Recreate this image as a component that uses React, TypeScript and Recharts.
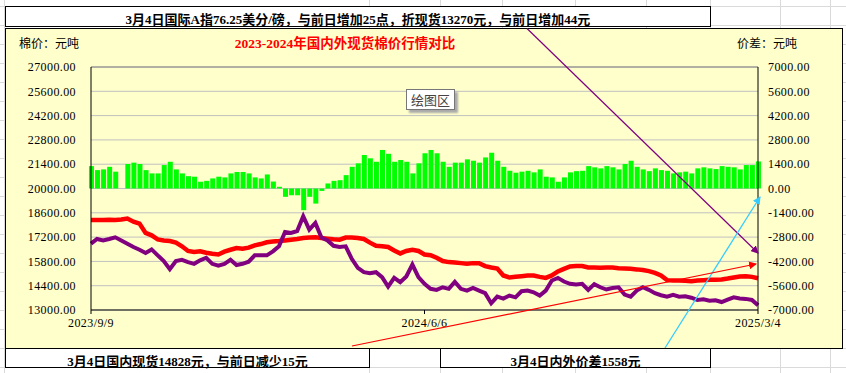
import { Bar, CartesianGrid, ComposedChart, Line, ReferenceLine, XAxis, YAxis } from "recharts";

// 国内现货 (元/吨)
const domestic = [
  18190, 18190, 18190, 18200, 18190, 18210, 18270, 18090, 17980, 17440,
  17300, 17070, 17010, 16970, 16880, 16670, 16400, 16340, 16380, 16300,
  16240, 16200, 16360, 16470, 16570, 16530, 16590, 16720, 16800, 16900,
  16940, 16970, 17010, 17050, 17090, 17150, 17170, 17190, 17150, 17110,
  17070, 17050, 17170, 17170, 17150, 17090, 16880, 16700, 16670, 16630,
  16430, 16260, 16400, 16470, 16400, 16200, 16160, 16010, 15820, 15760,
  15740, 15700, 15660, 15700, 15700, 15530, 15450, 15390, 14990, 14870,
  14910, 14950, 14990, 14990, 14910, 14850, 14990, 15220, 15370, 15510,
  15530, 15530, 15450, 15450, 15430, 15450, 15450, 15410, 15390, 15370,
  15340, 15300, 15240, 15140, 14990, 14720, 14700, 14700, 14680, 14660,
  14700, 14720, 14740, 14740, 14760, 14810, 14870, 14930, 14950, 14910,
  14828,
];

// 国际A指折现货 (元/吨)
const international = [
  16820, 17090, 17010, 17090, 17190, 17010, 16820, 16630, 16470, 16280,
  16490, 16150, 15820, 15350, 15820, 15890, 15760, 15660, 15860, 16010,
  15660, 15550, 15660, 15890, 15590, 15660, 15780, 16150, 16150, 16150,
  16380, 16670, 17500, 17440, 17550, 18400, 17630, 18020, 17170, 17010,
  16700, 16630, 16670, 15950, 15430, 15180, 15120, 15180, 14890, 14350,
  14850, 14600, 14930, 15620, 14890, 14510, 14220, 14160, 14310, 14220,
  14620, 14220, 14120, 14270, 14120, 13970, 13390, 13770, 13660, 13830,
  13730, 14080, 14120, 14020, 13830, 14120, 14700, 14850, 14640, 14510,
  14470, 14510, 14160, 14490, 14310, 14180, 14270, 14310, 13890, 13770,
  14120, 14310, 14160, 13970, 13850, 13770, 13870, 13770, 13790, 13710,
  13580, 13620, 13540, 13560, 13460, 13600, 13730, 13660, 13640, 13580,
  13270,
];

// 内外价差 (元/吨)
const spread = [
  1290, 1060, 1100, 1250, 970, null, 1410, 1490, 1410, 1060,
  870, 870, 1350, 1540, 1100, 870, 710, 680, 390, 440,
  580, 680, 640, 870, 950, 950, 870, 640, 580, 810,
  400, 100, -480, -390, -390, -1250, -480, -870, -140, 290,
  440, 480, 770, 1250, 1450, 1930, 1740, 1540, 2220, 2000,
  1540, 1640, 1540, 870, 1450, 2030, 2220, 2030, 1540, 1250,
  1490, 1490, 1680, 1600, 1490, 1790, 2060, 1600, 1250, 1020,
  910, 970, 1020, 930, 1100, 680, 640, 390, 640, 930,
  1000, 1020, 1290, 1220, 1160, 1290, 1220, 1100, 1410, 1600,
  1250, 1100, 1000, 1160, 1060, 1020, 870, 930, 970, 870,
  1160, 1220, 1160, 1120, 1290, 1250, 1220, 1100, 1350, 1350,
  1558,
];

const xTickIndex = [0, 55, 110];
const xTickLabels = ["2023/9/9", "2024/6/6", "2025/3/4"];
const priceTicks = [13000, 14400, 15800, 17200, 18600, 20000, 21400, 22800, 24200, 25600, 27000];
const spreadTicks = [-7000, -5600, -4200, -2800, -1400, 0, 1400, 2800, 4200, 5600, 7000];

const data = domestic.map((d, i) => ({
  i,
  domestic: d,
  international: international[i],
  spread: spread[i],
}));

const sheetRows = Array.from({ length: 20 }, (_, k) => 6.5 + k * 19);
const sheetCols = [4.5, 369.5, 440.5, 502.5, 575.5, 646.5, 710.5, 780.5, 830.5];

const tickStyle = { fill: "#000", fontSize: 12, fontFamily: '"Liberation Serif", serif', letterSpacing: 0.4 };
const cjk = '"Liberation Serif", "Noto Sans CJK SC", serif';

function Box({ left, width, top, height, text }: { left: number; width: number; top: number; height: number; text: string }) {
  return (
    <div
      style={{
        position: "absolute",
        left,
        top,
        width,
        height,
        boxSizing: "border-box",
        border: "1px solid #000",
        background: "#fff",
        fontFamily: cjk,
        fontWeight: 700,
        fontSize: 13,
        lineHeight: "13px",
        textAlign: "center",
        paddingTop: 6,
        whiteSpace: "nowrap",
        overflow: "visible",
      }}
    >
      {text}
    </div>
  );
}

export default function App() {
  return (
    <div style={{ position: "absolute", left: 0, top: 0, width: 846, height: 373, overflow: "hidden", background: "#fff" }}>
      <svg width={846} height={373} style={{ position: "absolute", left: 0, top: 0 }}>
        {sheetRows.map((y) => (
          <line key={"r" + y} x1={0} x2={846} y1={y} y2={y} stroke="#dadada" />
        ))}
        {sheetCols.map((x) => (
          <line key={"c" + x} x1={x} x2={x} y1={0} y2={373} stroke="#dadada" />
        ))}
      </svg>

      <div
        style={{
          position: "absolute",
          left: 5,
          top: 28,
          width: 838,
          height: 321,
          boxSizing: "border-box",
          border: "1px solid #000",
          background: "#ffffcc",
        }}
      />

      <div style={{ position: "absolute", left: 0, top: 0 }}>
        <ComposedChart width={846} height={373} data={data} margin={{ top: 67, right: 10, bottom: 33, left: 11 }}>
          <CartesianGrid yAxisId="left" vertical={false} stroke="#c0c0c0" />
          <XAxis
            dataKey="i"
            type="number"
            domain={[0, 110]}
            ticks={xTickIndex}
            tickFormatter={(v: number) => xTickLabels[xTickIndex.indexOf(v)] ?? ""}
            tick={tickStyle}
            axisLine={{ stroke: "#000" }}
            tickLine={{ stroke: "#000" }}
            tickSize={4}
            tickMargin={4}
            height={30}
            interval={0}
          />
          <YAxis
            yAxisId="left"
            domain={[13000, 27000]}
            ticks={priceTicks}
            tickFormatter={(v: number) => v.toFixed(2)}
            tick={tickStyle}
            axisLine={{ stroke: "#000" }}
            tickLine={false}
            tickSize={6}
            tickMargin={9}
            width={80}
            interval={0}
          />
          <YAxis
            yAxisId="right"
            orientation="right"
            domain={[-7000, 7000]}
            ticks={spreadTicks}
            tickFormatter={(v: number) => v.toFixed(2)}
            tick={tickStyle}
            axisLine={{ stroke: "#000" }}
            tickLine={false}
            tickSize={6}
            tickMargin={4}
            width={78}
            interval={0}
          />
          <ReferenceLine yAxisId="left" y={27000} stroke="#808080" />
          <Bar yAxisId="right" dataKey="spread" fill="#00ff00" barSize={5} isAnimationActive={false} />
          <Line
            yAxisId="left"
            dataKey="domestic"
            stroke="#ff0000"
            strokeWidth={4.5}
            dot={false}
            type="linear"
            isAnimationActive={false}
          />
          <Line
            yAxisId="left"
            dataKey="international"
            stroke="#800080"
            strokeWidth={4}
            dot={false}
            type="linear"
            isAnimationActive={false}
          />
        </ComposedChart>
      </div>

      <div style={{ position: "absolute", left: 19, top: 36, fontFamily: cjk, fontSize: 12, lineHeight: "16px" }}>棉价：元吨</div>
      <div style={{ position: "absolute", left: 737, top: 36, fontFamily: cjk, fontSize: 12, lineHeight: "16px" }}>价差：元吨</div>
      <div
        style={{
          position: "absolute",
          left: 145,
          width: 400,
          top: 36,
          textAlign: "center",
          color: "#ff0000",
          fontFamily: cjk,
          fontWeight: 700,
          fontSize: 13.5,
          lineHeight: "16px",
        }}
      >
        2023-2024年国内外现货棉价行情对比
      </div>

      <svg width={846} height={373} style={{ position: "absolute", left: 0, top: 0, pointerEvents: "none" }}>
        <defs>
          <marker id="arP" markerWidth="8" markerHeight="8" refX="7" refY="4" orient="auto" markerUnits="userSpaceOnUse">
            <path d="M0,0 L8,4 L0,8 Z" fill="#800080" />
          </marker>
          <marker id="arB" markerWidth="8" markerHeight="8" refX="7" refY="4" orient="auto" markerUnits="userSpaceOnUse">
            <path d="M0,0 L8,4 L0,8 Z" fill="#33ccff" />
          </marker>
          <marker id="arR" markerWidth="8" markerHeight="8" refX="7" refY="4" orient="auto" markerUnits="userSpaceOnUse">
            <path d="M0,0 L8,4 L0,8 Z" fill="#ff0000" />
          </marker>
        </defs>
        <line x1={527} y1={28.5} x2={758} y2={253} stroke="#800080" strokeWidth={1.2} markerEnd="url(#arP)" />
        <line x1={665} y1={348} x2={760} y2={197} stroke="#33ccff" strokeWidth={1.3} markerEnd="url(#arB)" />
        <line x1={352} y1={346} x2={756} y2={264} stroke="#ff0000" strokeWidth={1.1} markerEnd="url(#arR)" />
      </svg>

      <div
        style={{
          position: "absolute",
          left: 406,
          top: 89,
          width: 49,
          height: 21,
          boxSizing: "border-box",
          border: "1px solid #777",
          background: "#fff",
          boxShadow: "3px 3px 2px #aaa",
          fontFamily: '"Noto Sans CJK SC", sans-serif',
          fontSize: 13,
          lineHeight: "19px",
          color: "#444",
          textAlign: "center",
        }}
      >
        绘图区
      </div>

      <Box left={5} width={706} top={6} height={21} text="3月4日国际A指76.25美分/磅，与前日增加25点，折现货13270元，与前日增加44元" />
      <Box left={5} width={365} top={348} height={20} text="3月4日国内现货14828元，与前日减少15元" />
      <Box left={440} width={271} top={348} height={20} text="3月4日内外价差1558元" />
    </div>
  );
}
